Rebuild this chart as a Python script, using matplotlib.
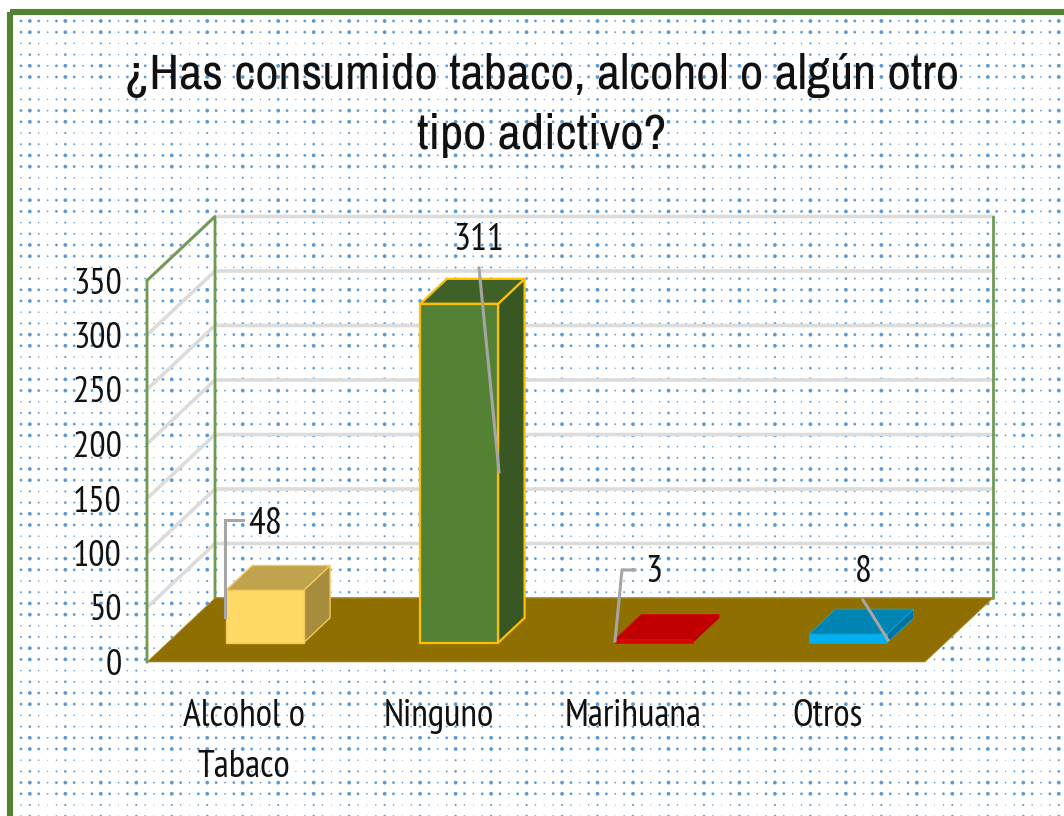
import numpy as np
import matplotlib
matplotlib.use("Agg")
import matplotlib.pyplot as plt
from matplotlib.patches import Rectangle

# ---- data ----
title_lines = ["¿Has consumido tabaco, alcohol o algún otro", "tipo adictivo?"]
categories = ["Alcohol o\nTabaco", "Ninguno", "Marihuana", "Otros"]
values = [48, 311, 3, 8]
y_ticks = [0, 50, 100, 150, 200, 250, 300, 350]

# ---- style ----
TITLE_FONT = ["Archivo Narrow", "Liberation Sans", "DejaVu Sans"]
FONT = ["PT Sans Narrow", "Carlito", "DejaVu Sans"]
front_c = ["#FFD966", "#548235", "#E00000", "#00B0F0"]
top_c = ["#BFA34E", "#3F6128", "#C00000", "#0084B4"]
side_c = ["#A68D3E", "#385723", "#A00000", "#00719C"]
edge_c = ["#F2C95A", "#FFC000", "#E00000", "#00B0F0"]
edge_w = [1.0, 1.6, 0.5, 0.5]
# leader lines (pixel offsets, image coordinates) and label centres
leaders = [[(225, 617), (225, 520), (243, 520)],
           [(479, 268), (499, 472)],
           [(615, 641), (622, 570), (635, 570)],
           [(863, 600), (888, 640)]]
label_pos = [(265, 524), (479, 241), (654, 573), (863, 572)]

W, H = 1064, 816
fig = plt.figure(figsize=(W / 100, H / 100), dpi=100, facecolor="white")

# background layer in pixel coordinates
bg = fig.add_axes([0, 0, 1, 1], zorder=0)
bg.set_xlim(0, W)
bg.set_ylim(H, 0)
bg.axis("off")
xs = np.arange(12.1, W + 5, 8.87)
ys = np.arange(9.8, H + 5, 11.2)
cx = [1.0, 0.72, 0.45, 0.72]
cy = [0.7, 1.0, 1.0, 0.55]
X, Y, S = [], [], []
for i, x in enumerate(xs):
    for j, y in enumerate(ys):
        if x > 13 and y > 15:
            X.append(x)
            Y.append(y)
            S.append(7.5 * (cx[(i + 2) % 4] * cy[j % 4]) ** 2)
bg.scatter(X, Y, s=S, c="#5B9BD5", linewidths=0)
bg.add_patch(Rectangle((9.5, 12.3), W + 50, H + 50, fill=False,
                       ec="#548235", lw=4.4, joinstyle="round"))

for k, line in enumerate(title_lines):
    bg.text(542, 75 + 60 * k, line, ha="center", va="center",
            fontsize=36.5, family=TITLE_FONT, color="#111111")

# chart: axes rect is the front plane of the 3-D box
ax = fig.add_axes([147 / W, 1 - 662 / H, 778 / W, 381.5 / H], zorder=1)
ax.patch.set_alpha(0)
ax.set_xlim(-0.5, 3.5)
ax.set_ylim(0, 350)
for s in ax.spines.values():
    s.set_visible(False)
ax.set_xticks(range(len(categories)), categories)
ax.set_yticks(y_ticks)
ax.tick_params(axis="both", length=0, colors="#111111")
ax.tick_params(axis="x", pad=27, labelsize=27)
ax.tick_params(axis="y", pad=18, labelsize=26)
for t in ax.get_xticklabels() + ax.get_yticklabels():
    t.set_family(FONT)
    t.set_linespacing(1.58)

DX = 68 / 194.5
DY = 64 / 1.09


def P(x, y, d):
    return (x + d * DX, y + d * DY)


def poly(pts, z=2, **kw):
    ax.fill([p[0] for p in pts], [p[1] for p in pts], clip_on=False, zorder=z, **kw)


x0, x1, ytop = -0.5, 3.5, 350
# gridlines on side wall & back wall
for v in y_ticks[1:]:
    ax.plot(*zip(P(x0, v, 0), P(x0, v, 1), P(x1, v, 1)), color="#DCDCDC",
            lw=2.6, clip_on=False, zorder=1.5)
# walls outline
ax.plot(*zip(P(x0, 0, 0), P(x0, ytop, 0), P(x0, ytop, 1), P(x0, 0, 1)),
        color="#6F9A50", lw=2.0, clip_on=False, zorder=1.8)
ax.plot(*zip(P(x1, ytop, 1), P(x1, 0, 1), P(x0, 0, 1)),
        color="#6F9A50", lw=2.0, clip_on=False, zorder=1.8)
# floor
poly([P(x0, 0, 0), P(x1, 0, 0), P(x1, 0, 1), P(x0, 0, 1)], fc="#8F6F00", ec="#B89A4A", lw=0.5)

# bars
bw = 0.4
d0, d1 = 0.3, 0.69
for i, v in enumerate(values):
    l, r = i - bw / 2, i + bw / 2
    kw = dict(ec=edge_c[i], lw=edge_w[i], z=3)
    poly([P(r, 0, d0), P(r, 0, d1), P(r, v, d1), P(r, v, d0)], fc=side_c[i], **kw)
    poly([P(l, v, d0), P(r, v, d0), P(r, v, d1), P(l, v, d1)], fc=top_c[i], **kw)
    poly([P(l, 0, d0), P(r, 0, d0), P(r, v, d0), P(l, v, d0)], fc=front_c[i], **kw)

# overlay: leader lines and value labels in pixel coordinates
ov = fig.add_axes([0, 0, 1, 1], zorder=2)
ov.set_xlim(0, W)
ov.set_ylim(H, 0)
ov.axis("off")
for pts, pos, v in zip(leaders, label_pos, values):
    ov.plot(*zip(*pts), color="#A6A6A6", lw=2.2, solid_joinstyle="miter")
    ov.text(pos[0], pos[1], str(v), ha="center", va="center",
            fontsize=27, family=FONT, color="#111111")

fig.savefig("out.png", dpi=100)
